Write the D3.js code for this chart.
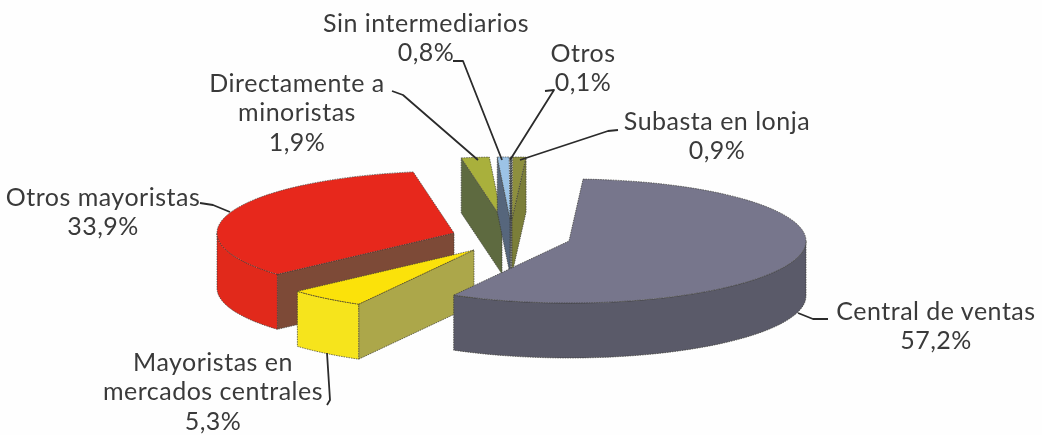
<!DOCTYPE html>
<html>
<head>
<meta charset="utf-8">
<script src="https://cdn.jsdelivr.net/npm/d3@7"></script>
<style>
  html, body { margin: 0; padding: 0; background: #fefefe; overflow: hidden; }
  svg { display: block; filter: blur(0.4px); }
  text { font-family: Lato, sans-serif; font-size: 25px; letter-spacing: 0.5px; fill: #3a3a3a; text-anchor: middle; }
</style>
</head>
<body>
<svg width="1042" height="435"></svg>
<script>
// Data, clockwise from the top of the pie
const categories = ["Central de ventas", "Mayoristas en mercados centrales", "Otros mayoristas",
    "Directamente a minoristas", "Sin intermediarios", "Otros", "Subasta en lonja"];
const shares = [57.2, 5.3, 33.9, 1.9, 0.8, 0.1, 0.9];

// Where each slice label wraps
const labelLines = [["Central de ventas"], ["Mayoristas en", "mercados centrales"], ["Otros mayoristas"],
    ["Directamente a", "minoristas"], ["Sin intermediarios"], ["Otros"], ["Subasta en lonja"]];

const topColors = ["#77768c", "#fbe20a", "#e7281c", "#a9b03c", "#9cc3e6", "#5a6a80", "#8d8f3e"];
const cutColors = ["#5b5b6b", "#aca74a", "#7d4a37", "#5e6a40", "#56667c", "#3d4a5c", "#7b7e39"];
const rimColors = ["#5a5a69", "#f6e41c", "#e1291b", "#5e6a40", "#56667c", "#3d4a5c", "#7b7e39"];

// Apex of every exploded slice and the label anchor / leader for it
const apexes = [[569, 241], [474, 250], [454, 233], [502, 219], [510, 219], [511, 219], [512, 219]];
const labelPos = [[936, 320], [213, 371], [103, 206], [297, 92], [426, 32], [583, 62], [717, 130]];
const leaders = [
    [[798, 313], [813, 319], [828, 319]],
    [[327, 353], [330, 400], [327, 405]],
    [[230, 212], [213, 205], [200, 203]],
    [[478, 160], [403, 95], [392, 91]],
    [[502, 160], [463, 61], [453, 61]],
    [[510, 160], [554, 90], [545, 91]],
    [[520, 160], [608, 131], [618, 130]]
];

const rx = 237, ry = 62, depth = 55;
const lineGap = 29.3;

const svg = d3.select("svg");
const pct = d3.formatLocale({ decimal: ",", thousands: ".", grouping: [3], currency: ["", ""] }).format(".1f");

// Pie angles run clockwise from north, starting just past the top
const startAngle = 3.4 * Math.PI / 180;
const slices = d3.pie().sort(null).startAngle(startAngle).endAngle(startAngle + 2 * Math.PI)(shares);

// d3.arc draws a circle, the group transform flattens it to the ellipse
const arc = d3.arc().innerRadius(0).outerRadius(rx);
const line = d3.line();

const rim = (i, a) => [apexes[i][0] + rx * Math.sin(a), apexes[i][1] - ry * Math.cos(a)];
const drop = p => [p[0], p[1] + depth];

// Wall below a straight cut, shown only if it faces the viewer
function cutWall(i, a) {
    const c = apexes[i], e = rim(i, a);
    return line([c, e, drop(e), drop(c)]) + "Z";
}

// Wall below the curved edge, the part of it in the front half
function rimWall(i, a0, a1) {
    const from = Math.max(a0, Math.PI / 2), to = Math.min(a1, 3 * Math.PI / 2);
    if (to <= from) return null;
    const top = d3.range(41).map(k => rim(i, from + (to - from) * k / 40));
    return line(top.concat(top.slice().reverse().map(drop))) + "Z";
}

const edge = g => g.attr("stroke", "#3a3a34").attr("stroke-width", 0.7)
    .attr("stroke-dasharray", "1.5 1").attr("stroke-linejoin", "round");

// Back slices first so the front ones overlap them
const order = [3, 4, 5, 6, 2, 1, 0];
order.forEach(i => {
    const s = slices[i];
    const g = svg.append("g").attr("class", "slice");

    if (-Math.cos(s.startAngle - Math.PI / 2) > 0)
        g.append("path").attr("d", cutWall(i, s.startAngle)).attr("fill", cutColors[i]).call(edge);
    if (-Math.cos(s.endAngle + Math.PI / 2) > 0)
        g.append("path").attr("d", cutWall(i, s.endAngle)).attr("fill", cutColors[i]).call(edge);

    const wall = rimWall(i, s.startAngle, s.endAngle);
    if (wall) g.append("path").attr("d", wall).attr("fill", rimColors[i]).call(edge);

    g.append("path")
        .attr("d", arc(s))
        .attr("transform", `translate(${apexes[i]}) scale(1,${ry / rx})`)
        .attr("fill", topColors[i])
        .attr("stroke", "#3a3a34").attr("stroke-width", 0.7)
        .attr("vector-effect", "non-scaling-stroke")
        .attr("stroke-dasharray", "1.5 1");
});

// Leader lines
svg.append("g").selectAll("path")
    .data(leaders)
    .join("path")
    .attr("d", d3.line())
    .attr("fill", "none")
    .attr("stroke", "#2b2b2b")
    .attr("stroke-width", 1.8)
    .attr("stroke-linejoin", "round");

// Labels: name lines plus the value under them
categories.forEach((name, i) => {
    const lines = labelLines[i].concat(pct(shares[i]) + "%");
    const text = svg.append("text").attr("aria-label", name);
    lines.forEach((l, k) => {
        text.append("tspan")
            .attr("x", labelPos[i][0])
            .attr("y", labelPos[i][1] + k * lineGap)
            .text(l);
    });
});
</script>
</body>
</html>
